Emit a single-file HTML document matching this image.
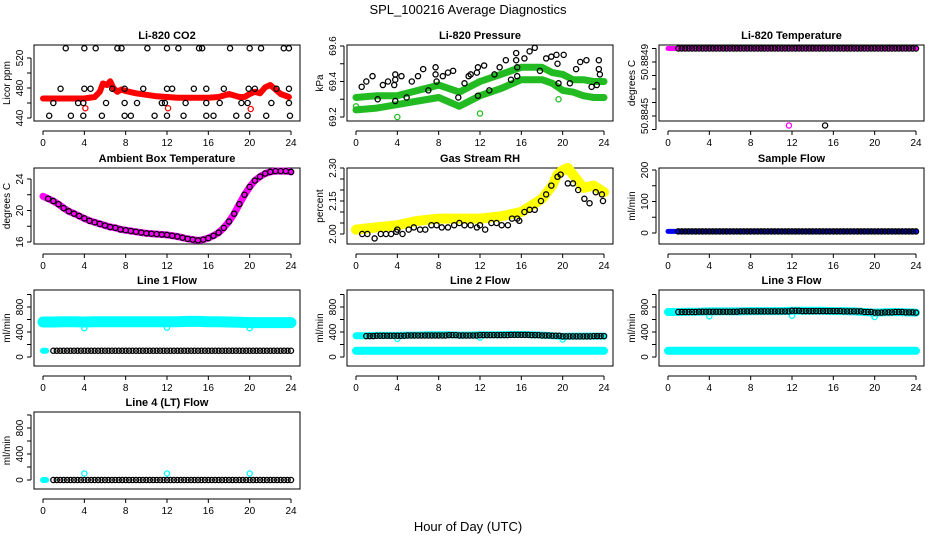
<!DOCTYPE html>
<html><head><meta charset="utf-8">
<style>
html,body{margin:0;padding:0;background:#fff;}
svg{display:block;font-family:"Liberation Sans",sans-serif;}
</style></head>
<body>
<svg id="chart" width="936" height="540" viewBox="0 0 936 540" xmlns="http://www.w3.org/2000/svg">
<rect x="0" y="0" width="936" height="540" fill="#fff"/>
<text x="468" y="14" font-size="13" text-anchor="middle">SPL_100216  Average Diagnostics</text>
<text x="468" y="531" font-size="13" text-anchor="middle">Hour of Day (UTC)</text>
</svg>
<script>
// ---------- data ----------
const xTicks = [0,4,8,12,16,20,24];
// CO2
const co2RedHours = [0,1,2,3,4,5,5.5,5.8,6.2,6.5,6.8,7.2,7.6,8,9,10,11,12,13,14,15,16,17,18,18.5,19,19.5,20,20.5,21,21.5,22,22.5,23,23.8];
const co2RedVals  = [466,466,466,466,466,468,475,486,484,489,480,475,478,476,473,471,469,468,467,467,467,467,468,472,470,468,468,472,475,473,481,484,478,472,468];
const co2BlackHours = [2.2,4,5.1,7.2,7.6,10.1,12,13.1,15.1,15.4,18.1,20,21.1,23.3,23.8, 1.7,4,4.6,6.7,7.9,9.7,12,12.5,14.6,15.8,17.5,19.9,20.5,22.6,23.8, 1,3.4,3.9,6.1,7.9,9.1,11.5,11.8,13.8,15.8,17.1,19.2,19.8,22.1,23.8, 0.6,2.7,3.9,5.7,7.9,8.5,10.8,12,13.6,15.8,16.5,18.7,19.8,21.6,23.9];
const co2BlackVals  = [533,533,533,533,533,533,533,533,533,533,533,533,533,533,533, 479,479,479,479,479,479,479,479,479,479,479,479,479,479,479, 460,460,460,460,460,460,460,460,460,460,460,460,460,460,460, 443,443,443,443,443,443,443,443,443,443,443,443,443,443,443];
const co2RedOutHours = [4.1,12.1,20.1];
const co2RedOutVals  = [453,453,452];
// Pressure
const presHours = [0,2,4,6,8,10,12,14,16,18,19,20,21,22,23,24];
const presUpper = [69.31,69.32,69.32,69.35,69.38,69.34,69.40,69.44,69.48,69.48,69.45,69.44,69.41,69.41,69.40,69.40];
const presLower = [69.24,69.25,69.27,69.29,69.31,69.26,69.32,69.36,69.41,69.41,69.39,69.35,69.34,69.32,69.31,69.31];
const presBlackHours = [0.55,1.0,1.6,2.1,2.6,3.1,3.7,3.8,3.8,3.8,4.4,4.9,5.4,6.0,6.5,7.0,7.7,7.7,7.8,8.4,8.9,9.4,9.9,10.5,10.9,11.1,11.7,11.8,11.8,12.4,12.9,13.4,13.9,14.5,15.0,15.5,15.5,15.6,15.6,16.3,16.8,17.3,17.8,18.4,18.9,19.4,19.5,19.6,20.1,20.7,21.3,21.7,22.3,22.8,23.3,23.5,23.5,23.6];
const presBlackVals  = [69.37,69.40,69.43,69.30,69.38,69.40,69.38,69.41,69.44,69.29,69.43,69.31,69.40,69.43,69.47,69.35,69.48,69.44,69.40,69.43,69.45,69.46,69.31,69.39,69.43,69.44,69.45,69.48,69.32,69.49,69.35,69.44,69.48,69.52,69.41,69.56,69.52,69.48,69.43,69.53,69.57,69.59,69.46,69.53,69.54,69.55,69.50,69.39,69.55,69.39,69.47,69.51,69.52,69.37,69.38,69.52,69.47,69.44];
const presGreenOutHours = [0,0,4.0,12.0,19.6];
const presGreenOutVals  = [69.31,69.26,69.20,69.22,69.30];
// Li-820 temperature
const tempHourlyVals = [50.8850,50.8850,50.8850,50.8850,50.8850,50.8850,50.8850,50.8850,50.8850,50.8850,50.8850,50.8850,50.8850,50.8850,50.8850,50.8850,50.8850,50.8850,50.8850,50.8850,50.8850,50.8850,50.8850,50.8850,50.8850];
const tempMagOutHours = [11.7];
const tempMagOutVals  = [50.88443];
const tempBlackOutHours = [15.2];
const tempBlackOutVals  = [50.88443];
// Ambient box temperature (half-hour)
const ambVals = [21.8,21.5,21.2,20.8,20.3,19.9,19.6,19.3,19.0,18.7,18.5,18.3,18.1,17.9,17.8,17.6,17.5,17.4,17.3,17.2,17.1,17.05,17.0,16.95,16.9,16.8,16.7,16.55,16.4,16.3,16.2,16.3,16.5,16.8,17.2,17.8,18.6,19.6,20.8,22.0,23.0,23.8,24.3,24.7,24.9,25.0,25.0,25.0,24.9];
// RH
const rhHours = [0,2,4,6,8,10,12,14,15,16,17,18,19,19.5,20,20.5,21,22,23,24];
const rhYellow = [2.02,2.03,2.04,2.06,2.07,2.07,2.07,2.08,2.09,2.10,2.13,2.16,2.22,2.27,2.29,2.30,2.27,2.21,2.22,2.19];
const rhBlackHours = [0.6,1.1,1.8,2.4,2.9,3.4,3.9,4.0,4.5,5.1,5.6,6.2,6.7,7.3,7.8,8.3,8.9,9.5,10.0,10.5,11.1,11.7,12.0,12.5,13.1,13.6,14.1,14.7,15.1,15.6,15.8,16.3,16.8,17.3,17.9,18.4,18.9,19.5,19.8,20.5,21.0,21.5,22.1,22.6,23.2,23.8,23.9];
const rhBlackVals  = [2.00,2.00,1.98,2.00,2.00,2.00,2.01,2.02,2.00,2.02,2.03,2.02,2.02,2.04,2.04,2.03,2.03,2.04,2.05,2.04,2.04,2.03,2.04,2.02,2.05,2.05,2.04,2.04,2.07,2.07,2.06,2.10,2.11,2.11,2.15,2.18,2.22,2.26,2.27,2.23,2.23,2.20,2.16,2.14,2.19,2.18,2.15];
// Sample flow
const sampleHourly = [5,5,5,5,5,5,5,5,5,5,5,5,5,5,5,5,5,5,5,5,5,5,5,5,5];
// Line flows (hourly)
const line1Cyan  = [560,560,565,565,560,565,565,565,565,565,565,565,565,565,570,570,565,565,560,555,550,550,550,550,550];
const line1Black = [100,100,100,100,100,100,100,100,100,100,100,100,100,100,100,100,100,100,100,100,100,100,100,100,100];
const line2Cyan  = [340,340,345,345,345,350,350,355,355,355,350,350,355,355,355,360,360,355,350,340,330,335,335,335,335];
const line2Black = [335,335,340,340,340,345,345,345,345,350,345,345,350,350,350,355,355,350,345,340,330,330,330,335,335];
const line3Cyan  = [720,720,725,725,730,730,730,730,735,735,735,735,740,740,740,740,735,735,730,720,710,715,720,715,710];
const line3Black = [715,720,720,725,725,725,725,730,730,730,730,730,740,735,735,735,735,730,730,720,710,715,720,715,710];
const lineLowCyan = [100,100,100,100,100,100,100,100,100,100,100,100,100,100,100,100,100,100,100,100,100,100,100,100,100];
const dipHours = [4,12,20];
const line1DipVals = [460,470,460];
const line2DipVals = [290,310,280];
const line3DipVals = [650,660,640];
const line4Hourly = [0,0,0,0,0,0,0,0,0,0,0,0,0,0,0,0,0,0,0,0,0,0,0,0,0];
const line4OutVals = [100,100,100];

// ---------- layout ----------
const NS="http://www.w3.org/2000/svg";
const svg=document.getElementById('chart');
function mk(tag,attrs,parent){const e=document.createElementNS(NS,tag);for(const k in attrs)e.setAttribute(k,attrs[k]);(parent||svg).appendChild(e);return e;}
const colL=[34,347,659], rowT=[45,168,290,412];
function panel(name,title,col,row,yLabel,v1,p1,v2,p2,ticks,labels,fmt){
  const P={left:colL[col],top:rowT[row],w:col==2?265:266,h:row==3?77:76,v1,p1,v2,p2};
  const g=mk('g',{});
  
  
  P.g=g;
  const t=mk('text',{x:P.left+P.w/2,y:P.top-6,'font-size':11,'font-weight':'bold','text-anchor':'middle'},g);
  t.textContent=title;
  
  
  const box=mk('rect',{x:P.left,y:P.top,width:P.w,height:P.h,fill:'none',stroke:'#000','stroke-width':1},g);
  
  
  const xa=mk('g',{},g);
  
  
  const ay=P.top+P.h+10;
  mk('line',{x1:sx(P,0),x2:sx(P,24),y1:ay,y2:ay,stroke:'#000'},xa);
  xTicks.forEach(h=>{
    mk('line',{x1:sx(P,h),x2:sx(P,h),y1:ay,y2:ay+4,stroke:'#000'},xa);
    const l=mk('text',{x:sx(P,h),y:ay+15,'font-size':10,'text-anchor':'middle'},xa);l.textContent=h;
  });
  const ya=mk('g',{},g);
  
  
  const ax=P.left-3;
  mk('line',{x1:ax,x2:ax,y1:sy(P,ticks[0]),y2:sy(P,ticks[ticks.length-1]),stroke:'#000'},ya);
  ticks.forEach(v=>mk('line',{x1:ax-4,x2:ax,y1:sy(P,v),y2:sy(P,v),stroke:'#000'},ya));
  labels.forEach(v=>{
    const y=sy(P,v),x=P.left-11;
    const l=mk('text',{x:x,y:y,'font-size':10,'text-anchor':'middle',transform:`rotate(-90 ${x} ${y})`},ya);
    l.textContent=fmt?fmt(v):v;
  });
  const yt=mk('text',{x:P.left-24,y:P.top+P.h/2,'font-size':10,'text-anchor':'middle',transform:`rotate(-90 ${P.left-24} ${P.top+P.h/2})`},g);
  yt.textContent=yLabel;
  
  
  return P;
}
function sx(P,h){return P.left+9+h*248/24;}
function sy(P,v){return P.p1+(v-P.v1)*(P.p2-P.p1)/(P.v2-P.v1);}
function band(P,hours,vals,color,w,name){
  const pts=hours.map((h,i)=>sx(P,h).toFixed(1)+','+sy(P,vals[i]).toFixed(1)).join(' ');
  const e=mk('polyline',{points:pts,fill:'none',stroke:color,'stroke-width':w,'stroke-linejoin':'round','stroke-linecap':'round'},P.g);
  
  
}
function pts(P,hours,vals,color,name,r){
  const g=mk('g',{},P.g);
  
  
  hours.forEach((h,i)=>mk('circle',{cx:sx(P,h),cy:sy(P,vals[i]),r:r||2.6,fill:'none',stroke:color,'stroke-width':1.3},g));
}
function hourlyHours(){const a=[];for(let i=0;i<25;i++)a.push(i);return a;}
function denseRow(P,hourly,color,name,start){
  const hs=[],vs=[];
  for(let i=start*3;i<=72;i++){hs.push(i/3);vs.push(hourly[Math.min(24,Math.floor(i/3))]);}
  pts(P,hs,vs,color,name);
}
const H=hourlyHours();

const pc=panel('co2','Li-820 CO2',0,0,'Licor ppm',440,118,520,58,[440,460,480,500,520],[440,480,520]);
band(pc,co2RedHours,co2RedVals,'#ff0000',6,'co2-red-series');
pts(pc,co2RedOutHours,co2RedOutVals,'#ff0000','co2-red-outliers');
pts(pc,co2BlackHours,co2BlackVals,'#000','co2-black-points');

const pp=panel('pressure','Li-820 Pressure',1,0,'kPa',69.2,117,69.6,46,[69.2,69.3,69.4,69.5,69.6],[69.2,69.4,69.6],v=>v.toFixed(1));
band(pp,presHours,presUpper,'#22bb22',7,'pressure-upper-band');
band(pp,presHours,presLower,'#22bb22',7,'pressure-lower-band');
pts(pp,presGreenOutHours,presGreenOutVals,'#22bb22','pressure-green-outliers');
pts(pp,presBlackHours,presBlackVals,'#000','pressure-black-points');

const pt=panel('li820-temp','Li-820 Temperature',2,0,'degrees C',50.8845,116,50.8849,62,[50.8844,50.8845,50.8846,50.8847,50.8848,50.8849,50.8850],[50.8845,50.8849],v=>v.toFixed(4));
band(pt,H,tempHourlyVals,'#ff00ff',5,'temp-magenta-series');
denseRow(pt,tempHourlyVals,'#000','temp-black-points',1);
pts(pt,tempMagOutHours,tempMagOutVals,'#ff00ff','temp-magenta-outlier');
pts(pt,tempBlackOutHours,tempBlackOutVals,'#000','temp-black-outlier');

const pa=panel('ambient','Ambient Box Temperature',0,1,'degrees C',16,242,24,179,[16,18,20,22,24],[16,20,24]);
const ambH=ambVals.map((v,i)=>i/2);
band(pa,ambH,ambVals,'#ff00ff',7,'ambient-magenta-series');
pts(pa,ambH.slice(1),ambVals.slice(1),'#000','ambient-black-points');

const pr=panel('rh','Gas Stream RH',1,1,'percent',2.0,234,2.3,168,[2.0,2.05,2.1,2.15,2.2,2.25,2.3],[2.0,2.15,2.3],v=>v.toFixed(2));
band(pr,rhHours,rhYellow,'#ffff00',10,'rh-yellow-series');
pts(pr,rhBlackHours,rhBlackVals,'#000','rh-black-points');

const ps=panel('sample-flow','Sample Flow',2,1,'ml/min',0,233,200,170,[0,50,100,150,200],[0,100,200]);
band(ps,H,sampleHourly,'#0000ff',5,'sample-blue-series');
denseRow(ps,sampleHourly,'#000','sample-black-points',1);

const ft=[0,200,400,600,800,1000], fl=[0,400,800];
const p1=panel('line1','Line 1 Flow',0,2,'ml/min',0,357,800,307,ft,fl);
band(p1,H,line1Cyan,'#00ffff',11,'line1-cyan-series');
pts(p1,dipHours,line1DipVals,'#00ffff','line1-cyan-dips');
band(p1,[0,0.3],[100,100],'#00ffff',6,'line1-cyan-low');
denseRow(p1,line1Black,'#000','line1-black-points',1);
const p2=panel('line2','Line 2 Flow',1,2,'ml/min',0,357,800,307,ft,fl);
band(p2,H,lineLowCyan,'#00ffff',8,'line2-cyan-low');
band(p2,H,line2Cyan,'#00ffff',7,'line2-cyan-series');
pts(p2,dipHours,line2DipVals,'#00ffff','line2-cyan-dips');
denseRow(p2,line2Black,'#000','line2-black-points',1);
const p3=panel('line3','Line 3 Flow',2,2,'ml/min',0,357,800,307,ft,fl);
band(p3,H,lineLowCyan,'#00ffff',8,'line3-cyan-low');
band(p3,H,line3Cyan,'#00ffff',8,'line3-cyan-series');
pts(p3,dipHours,line3DipVals,'#00ffff','line3-cyan-dips');
denseRow(p3,line3Black,'#000','line3-black-points',1);
const p4=panel('line4','Line 4 (LT) Flow',0,3,'ml/min',0,480,800,428,ft,fl);
band(p4,[0,0.3],[0,0],'#00ffff',6,'line4-cyan-series');
pts(p4,dipHours,line4OutVals,'#00ffff','line4-cyan-outliers');
denseRow(p4,line4Hourly,'#000','line4-black-points',1);
</script>
</body></html>
